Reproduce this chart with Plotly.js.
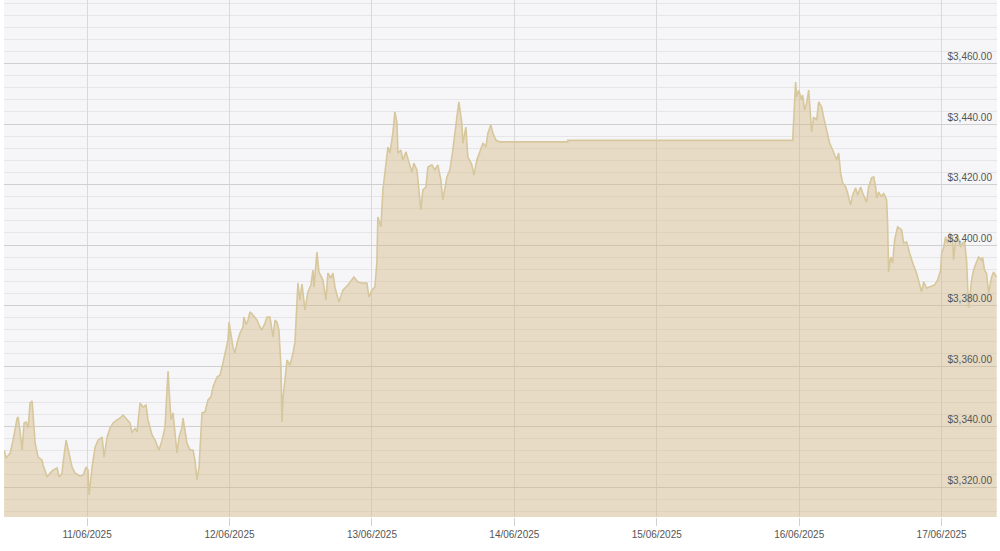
<!DOCTYPE html>
<html>
<head>
<meta charset="utf-8">
<script src="https://cdn.plot.ly/plotly-3.0.1.min.js"></script>
<style>
  html, body { margin: 0; padding: 0; background: #ffffff; }
  #chart { width: 1000px; height: 551px; }
</style>
</head>
<body>
<div id="chart"></div>
<script>
// Gold spot price (USD/oz)
const times10 = ["10:01","10:21","11:02","11:32","12:13","12:23","12:43","13:03","13:23","13:44","14:04","14:24","14:44","14:54","15:15","15:45","16:25","16:35","17:16","17:46","18:16","18:57","19:17","19:47","19:57","20:28","20:48","21:28","21:59","22:49","23:20","23:50"];
const prices10 = [3332.2,3329.6,3331.2,3335.5,3342.8,3343.1,3338.2,3332.2,3341.2,3341.5,3339.5,3347.8,3348.4,3344.5,3334.5,3329.9,3328.9,3327.3,3323.3,3324.6,3325.6,3326.3,3323.3,3324.6,3327.9,3335.5,3332.2,3326.6,3324.6,3323.6,3324.0,3326.6];

const times11 = ["00:10","00:20","00:51","01:21","01:51","02:32","02:52","03:22","03:52","04:23","05:03","05:33","06:04","06:44","07:14","07:35","08:05","08:25","08:56","09:26","09:56","10:16","10:57","11:27","12:08","12:38","13:08","13:28","13:39","13:49","14:09","14:29","14:49","15:09","15:30","16:00","16:10","16:30","16:50","17:21","17:51","18:11","18:32","18:52","19:22","19:52","20:23","20:53","21:13","21:54","22:24","22:54","23:25","23:45","23:55"];
const prices11 = [3325.6,3317.4,3326.6,3333.2,3335.5,3336.5,3329.9,3336.5,3339.5,3341.2,3342.2,3342.8,3343.8,3342.2,3341.2,3337.9,3339.5,3338.2,3347.8,3346.4,3347.1,3342.2,3337.2,3335.5,3332.2,3335.5,3339.8,3352.1,3358.3,3352.1,3342.2,3344.5,3336.5,3331.2,3336.5,3339.8,3342.8,3338.8,3334.5,3332.2,3332.2,3328.9,3322.3,3326.6,3344.5,3344.8,3348.8,3349.8,3353.1,3356.4,3357.0,3361.0,3365.3,3368.6,3374.5];

const times12 = ["00:15","00:35","00:55","01:16","01:46","02:16","02:26","02:47","03:07","03:27","03:57","04:18","04:38","05:08","05:28","05:59","06:19","06:49","07:20","07:40","08:00","08:20","08:40","08:51","09:01","09:21","09:41","10:11","10:42","11:02","11:22","11:32","11:52","12:13","12:43","13:13","13:43","14:04","14:14","14:44","15:04","15:45","16:15","16:35","17:06","17:26","17:46","18:26","19:07","19:57","20:58","21:38","22:29","23:09","23:30","23:59"];
const prices12 = [3369.6,3366.3,3364.3,3367.6,3370.9,3372.9,3376.2,3373.6,3375.2,3377.9,3376.9,3375.9,3375.2,3372.9,3371.9,3374.2,3376.2,3376.2,3369.6,3375.2,3374.5,3371.9,3359.7,3341.5,3349.8,3355.4,3362.0,3360.3,3364.3,3367.9,3381.8,3387.4,3381.8,3387.1,3378.5,3384.5,3386.8,3391.7,3386.1,3397.7,3391.1,3388.4,3381.8,3390.7,3389.1,3390.7,3386.1,3381.2,3385.1,3386.8,3389.4,3387.8,3387.4,3387.4,3382.8,3385.1];

const times13 = ["00:30","00:50","01:00","01:31","01:51","02:21","02:42","03:02","03:32","03:52","04:13","04:23","04:53","05:13","05:44","06:14","06:44","07:04","07:35","07:55","08:15","08:35","09:06","09:26","10:06","10:37","11:07","11:37","11:57","12:38","13:08","13:38","13:59","14:19","14:39","15:09","15:20","15:50","16:10","16:50","17:11","17:41","18:11","18:42","19:12","19:32","20:02","20:23","20:53","21:33"];
const prices13 = [3386.1,3394.1,3409.3,3406.0,3418.2,3427.1,3432.4,3430.4,3437.0,3444.0,3440.3,3430.4,3431.4,3428.1,3430.8,3427.4,3424.1,3427.1,3424.8,3418.2,3411.6,3418.2,3419.2,3425.8,3426.5,3424.8,3426.5,3421.5,3414.9,3422.5,3424.8,3431.4,3438.0,3442.3,3447.3,3440.3,3433.7,3439.0,3429.1,3426.5,3423.1,3428.1,3430.8,3433.7,3432.4,3437.0,3439.7,3437.0,3434.7,3434.1];

const times14 = ["09:00","09:01"];
const prices14 = [3434.1,3434.6];

const times15 = ["22:54","23:04","23:24","23:35","23:55"];
const prices15 = [3434.6,3441.3,3453.9,3448.9,3451.2];

const times16 = ["00:25","00:35","00:55","01:16","01:36","01:56","02:06","02:26","02:57","03:17","03:47","04:07","04:38","05:08","05:38","06:19","06:39","06:59","07:19","07:50","08:10","08:40","09:00","09:31","09:51","10:21","10:41","11:22","11:42","12:12","12:33","12:53","13:03","13:23","13:53","14:14","14:44","14:54","15:04","15:24","15:45","16:05","16:35","17:16","17:36","18:06","18:36","19:07","19:47","20:17","20:38","20:58","21:28","21:58","22:49","23:19","23:50"];
const prices16 = [3447.9,3449.6,3444.6,3447.0,3451.2,3443.6,3437.4,3442.3,3441.3,3447.3,3445.6,3442.3,3438.0,3433.7,3431.4,3428.1,3430.4,3423.8,3420.5,3419.2,3417.2,3413.2,3416.5,3418.9,3416.5,3419.2,3417.2,3414.2,3419.2,3422.2,3422.5,3419.2,3415.5,3417.5,3415.9,3417.2,3414.9,3407.3,3391.1,3396.0,3394.1,3401.7,3406.0,3405.0,3400.7,3401.0,3397.4,3394.1,3390.7,3387.4,3384.5,3387.8,3385.8,3386.1,3386.8,3388.4,3391.7];

const times17 = ["00:00","00:20","00:40","01:00","01:21","01:51","02:01","02:21","02:41","03:12","03:32","03:52","04:12","04:22","04:33","05:03","05:23","05:53","06:14","06:44","06:54","07:14","07:34","07:55","08:25","08:45","09:16"];
const prices17 = [3397.4,3399.0,3402.7,3400.7,3404.0,3402.7,3395.0,3401.7,3403.3,3399.3,3400.7,3401.0,3395.0,3384.1,3379.2,3388.4,3391.7,3394.4,3396.0,3395.0,3396.0,3391.7,3390.7,3384.1,3389.4,3391.1,3389.4];

const days = [
  ["2025-06-10", times10, prices10],
  ["2025-06-11", times11, prices11],
  ["2025-06-12", times12, prices12],
  ["2025-06-13", times13, prices13],
  ["2025-06-14", times14, prices14],
  ["2025-06-15", times15, prices15],
  ["2025-06-16", times16, prices16],
  ["2025-06-17", times17, prices17]
];

const x = [], y = [];
days.forEach(([d, ts, ps]) => {
  ts.forEach((t, i) => { x.push(d + " " + t); y.push(ps[i]); });
});

const tickDates = ["2025-06-11","2025-06-12","2025-06-13","2025-06-14","2025-06-15","2025-06-16","2025-06-17"];
const tickLabels = ["11/06/2025","12/06/2025","13/06/2025","14/06/2025","15/06/2025","16/06/2025","17/06/2025"];
const priceTicks = [3320, 3340, 3360, 3380, 3400, 3420, 3440, 3460];
const priceLabels = ["$3,320.00","$3,340.00","$3,360.00","$3,380.00","$3,400.00","$3,420.00","$3,440.00","$3,460.00"];

const trace = {
  type: "scatter",
  mode: "lines",
  x: x,
  y: y,
  fill: "tozeroy",
  fillcolor: "rgba(210,180,120,0.40)",
  line: { color: "#d7c79d", width: 1.6, shape: "linear" },
  hoverinfo: "skip"
};

const layout = {
  width: 1000,
  height: 551,
  margin: { l: 4, r: 3, t: 0, b: 34 },
  paper_bgcolor: "#ffffff",
  plot_bgcolor: "#f6f6f8",
  showlegend: false,
  font: { family: "Liberation Sans, Arial, sans-serif", size: 10, color: "#555555" },
  xaxis: {
    type: "date",
    range: ["2025-06-10 10:00", "2025-06-17 09:20"],
    tickmode: "array",
    tickvals: tickDates,
    ticktext: tickLabels,
    showgrid: true,
    gridcolor: "#d9d9d9",
    gridwidth: 1,
    ticks: "outside",
    ticklen: 8,
    tickcolor: "#d0d0d0",
    showline: false,
    zeroline: false,
    tickfont: { size: 10, color: "#555555" }
  },
  yaxis: {
    range: [3310.1, 3481],
    side: "right",
    tickmode: "array",
    tickvals: priceTicks,
    ticktext: priceLabels,
    ticklabelposition: "inside",
    ticklabelshift: -7,
    ticklabelstandoff: 2,
    ticks: "",
    showgrid: true,
    gridcolor: "#cfcfcf",
    gridwidth: 1,
    minor: { dtick: 4, tick0: 3320, showgrid: true, gridcolor: "#e6e6e8", gridwidth: 1 },
    zeroline: false,
    showline: false,
    tickfont: { size: 10, color: "#555555" }
  }
};

Plotly.newPlot("chart", [trace], layout, { staticPlot: true, displayModeBar: false });
</script>
</body>
</html>
